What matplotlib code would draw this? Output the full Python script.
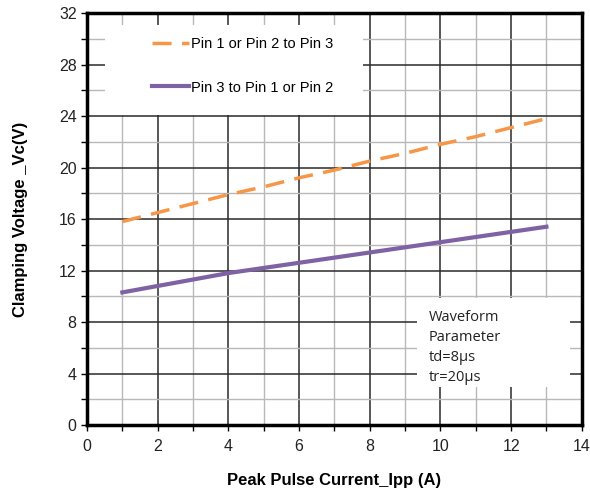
import matplotlib.pyplot as plt
from matplotlib.patches import Rectangle
from matplotlib.ticker import MultipleLocator

# valores
corrente = [1, 2, 3, 4, 5, 6, 7, 8, 9, 10, 11, 12, 13]
v_pin12_to_3 = [15.8, 16.5, 17.2, 17.9, 18.5, 19.2, 19.8, 20.5, 21.1, 21.8, 22.4, 23.1, 23.8]
v_pin3_to_12 = [10.3, 10.8, 11.3, 11.8, 12.2, 12.6, 13.0, 13.4, 13.8, 14.2, 14.6, 15.0, 15.4]

rotulos = ["Pin 1 or Pin 2 to Pin 3", "Pin 3 to Pin 1 or Pin 2"]
texto_onda = ["Waveform", "Parameter", "td=8\u00b5s", "tr=20\u00b5s"]

plt.rcParams["font.family"] = ["Liberation Sans", "DejaVu Sans"]

fig = plt.figure(figsize=(5.9, 4.95), dpi=100)
ax = fig.add_axes([0.1475, 0.1414, 0.8385, 0.8323])

ax.set_xlim(0, 14)
ax.set_ylim(0, 32)
ax.xaxis.set_major_locator(MultipleLocator(2))
ax.xaxis.set_minor_locator(MultipleLocator(1))
ax.yaxis.set_major_locator(MultipleLocator(4))
ax.yaxis.set_minor_locator(MultipleLocator(2))

ax.set_axisbelow(True)
ax.grid(which="major", color="#2a2a2a", linewidth=1.1)
ax.grid(which="minor", color="#b8b8b8", linewidth=1.0)

for lado in ax.spines.values():
    lado.set_linewidth(2.5)
    lado.set_color("black")

ax.tick_params(which="both", direction="out", length=4, width=1, colors="black",
               labelsize=11.5, labelcolor="#222222")
ax.tick_params(axis="x", pad=6)

# caixas brancas sobre a grade (legenda e parâmetros)
ax.add_patch(Rectangle((0.036, 0.752), 0.522, 0.219, transform=ax.transAxes,
                       facecolor="white", edgecolor="none", zorder=1))
ax.add_patch(Rectangle((0.667, 0.092), 0.309, 0.216, transform=ax.transAxes,
                       facecolor="white", edgecolor="none", zorder=1))

ax.plot(corrente, v_pin12_to_3, color="#f79646", linewidth=2.5, linestyle=(0, (5.5, 3)),
        label=rotulos[0], zorder=3)
ax.plot(corrente, v_pin3_to_12, color="#7f62a4", linewidth=3, label=rotulos[1], zorder=3)

ax.legend(loc="upper left", bbox_to_anchor=(0.12, 0.955), frameon=False, fontsize=10.5,
          handlelength=2.5, handletextpad=0.15, labelspacing=2.0, borderaxespad=0)

ax.text(0.69, 0.28, "\n".join(texto_onda), transform=ax.transAxes, va="top", ha="left",
        fontsize=10.5, family=["Open Sans", "DejaVu Sans"], linespacing=1.45, color="#222222",
        zorder=4)

ax.set_xlabel("Peak Pulse Current_Ipp (A)", fontsize=12, fontweight="bold", labelpad=14)
ax.set_ylabel("Clamping Voltage _Vc(V)", fontsize=12, fontweight="bold", labelpad=22)

fig.savefig("out.png", dpi=100)
